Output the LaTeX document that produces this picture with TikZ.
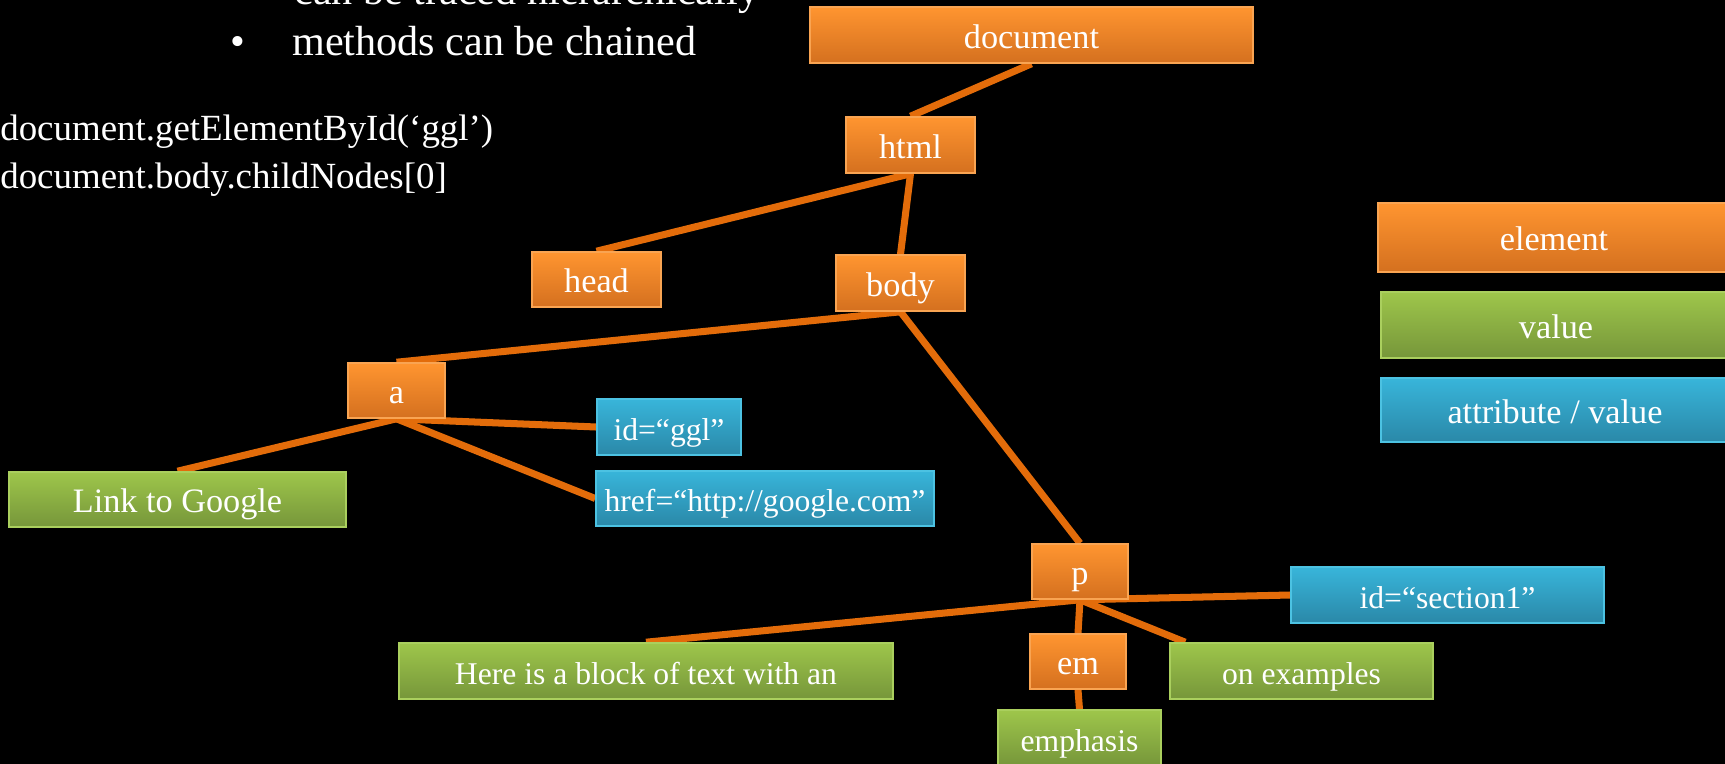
\documentclass[tikz,border=0pt]{standalone}
\usepackage{fontspec}
\setmainfont{Liberation Serif}
\usetikzlibrary{calc}

\definecolor{wire}{HTML}{E36C0A}
\definecolor{orTop}{HTML}{FF9530}
\definecolor{orBot}{HTML}{D4701F}
\definecolor{orEdge}{HTML}{F9A452}
\definecolor{grTop}{HTML}{9EC64B}
\definecolor{grBot}{HTML}{76963A}
\definecolor{grEdge}{HTML}{AACF5E}
\definecolor{blTop}{HTML}{38B5DA}
\definecolor{blBot}{HTML}{2A88A8}
\definecolor{blEdge}{HTML}{4CC2E2}

\pgfdeclarelayer{backdrop}
\pgfdeclarelayer{links}
\pgfsetlayers{backdrop,links,main}

\tikzset{
  box/.style 2 args={minimum width=#1*0.02cm, minimum height=#2*0.02cm,
    inner sep=0pt, text=white, line width=0.9pt,
    text height=16pt, text depth=1pt,
    font=\fontsize{19.5}{22}\selectfont},
  elem/.style={draw=orEdge, top color=orTop, bottom color=orBot},
  val/.style={draw=grEdge, top color=grTop, bottom color=grBot},
  attr/.style={draw=blEdge, top color=blTop, bottom color=blBot},
  small/.style={font=\fontsize{18}{21}\selectfont},
  wirestyle/.style={draw=wire, line width=4pt},
  slide/.style={text=white, inner sep=0pt, anchor=base west},
}

\begin{document}
\begin{tikzpicture}[x=0.02cm, y=-0.02cm]
\useasboundingbox (0,0) rectangle (1725,764);
\clip (0,0) rectangle (1725,764);
\begin{pgfonlayer}{backdrop}
  \fill[black] (0,0) rectangle (1725,764);
\end{pgfonlayer}

% slide text
\node[slide, font=\fontsize{24}{28}\selectfont] (t1) at (294,5) {can be traced hierarchically};
\node[text=white, inner sep=0pt, anchor=base, font=\fontsize{24}{28}\selectfont] (bul) at (238,55) {•};
\node[slide, font=\fontsize{24}{28}\selectfont] (t2) at (292,55) {methods can be chained};
\node[slide, font=\fontsize{21}{25}\selectfont] (c1) at (0,140) {document.getElementById(‘ggl’)};
\node[slide, font=\fontsize{21}{25}\selectfont] (c2) at (0,188) {document.body.childNodes[0]};

% tree nodes
\node[box={443}{56}, elem] (doc)  at (1031.5,35)  {document};
\node[box={129}{56}, elem] (html) at (910.5,145)  {html};
\node[box={129}{55}, elem] (head) at (596.5,279.5) {head};
\node[box={129}{56}, elem] (body) at (900.5,283)  {body};
\node[box={97}{55},  elem] (a)    at (396.5,390.5) {a};
\node[box={144}{56}, attr, small] (idg)  at (669,427)   {id=“ggl”};
\node[box={338}{55}, attr, small] (href) at (765,498.5) {href=“http://google.com”};
\node[box={337}{55}, val]  (link) at (177.5,499.5) {Link to Google};
\node[box={96}{55},  elem] (p)    at (1080,571.5) {p};
\node[box={313}{56}, attr, small] (sec)  at (1447.5,595) {id=“section1”};
\node[box={494}{56}, val, small]  (here) at (646,671)   {Here is a block of text with an};
\node[box={96}{55},  elem] (em)   at (1078,661.5) {em};
\node[box={263}{56}, val, small]  (onex) at (1301.5,671) {on examples};
\node[box={163}{56}, val, small]  (emph) at (1079.5,738) {emphasis};

% legend
\node[box={352}{69}, elem] (lgE) at (1554,237.5) {element};
\node[box={350}{66}, val]  (lgV) at (1556,325)   {value};
\node[box={348}{64}, attr] (lgA) at (1555,410)   {attribute / value};

\coordinate (onexIn) at ($(onex.north west)+(16,0)$);

% connectors
\begin{pgfonlayer}{links}
  \draw[wirestyle] (doc.south)  -- (html.north);
  \draw[wirestyle] (html.south) -- (head.north);
  \draw[wirestyle] (html.south) -- (body.north);
  \draw[wirestyle] (body.south) -- (a.north);
  \draw[wirestyle] (body.south) -- (p.north);
  \draw[wirestyle] (a.south) -- (link.north);
  \draw[wirestyle] (a.south) -- (idg.west);
  \draw[wirestyle] (a.south) -- (href.west);
  \draw[wirestyle] (p.south) -- (here.north);
  \draw[wirestyle] (p.south) -- (sec.west);
  \draw[wirestyle] (p.south) -- (em.north);
  \draw[wirestyle] (p.south) -- (onexIn);
  \draw[wirestyle] (em.south) -- (emph.north);
\end{pgfonlayer}
\end{tikzpicture}
\end{document}
